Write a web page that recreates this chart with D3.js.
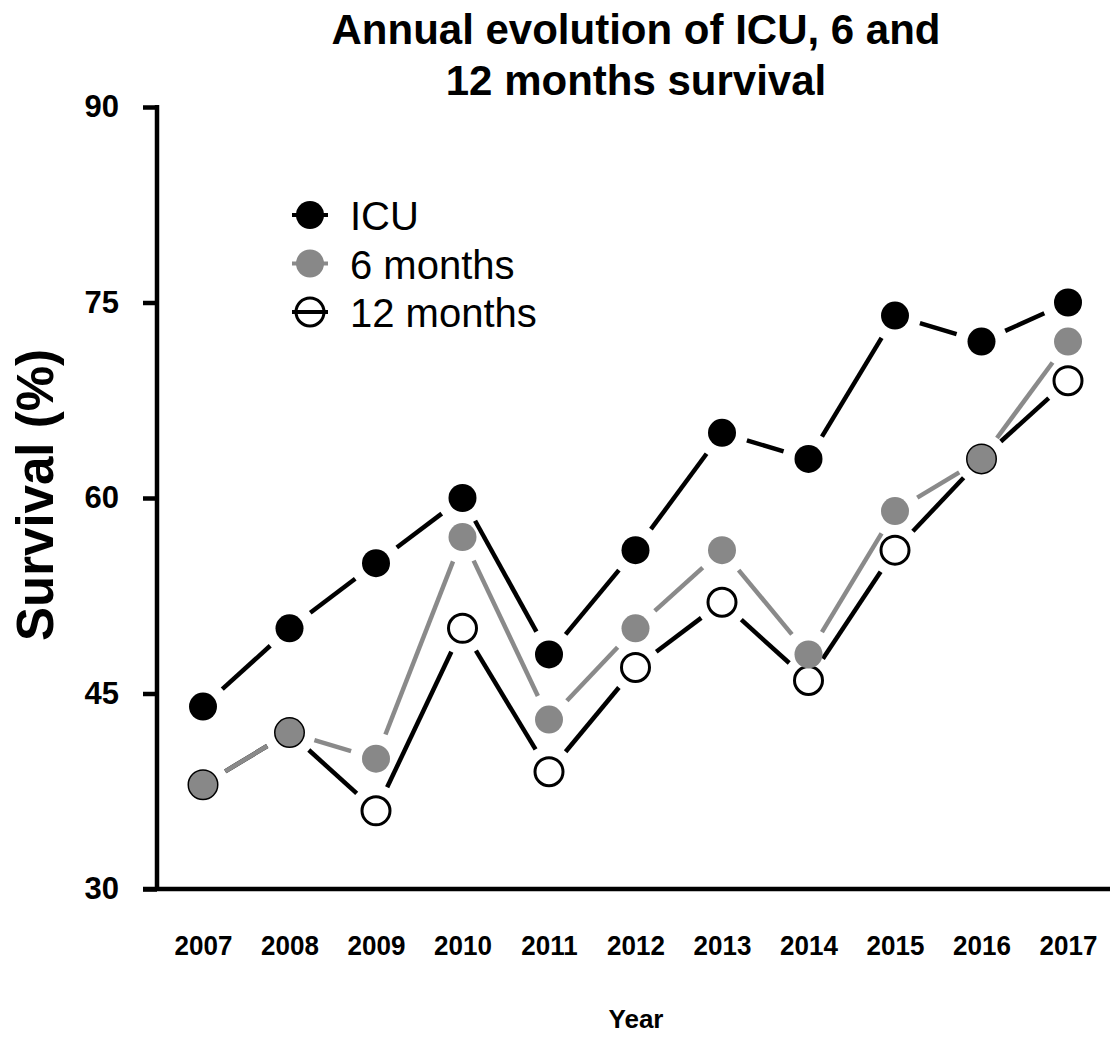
<!DOCTYPE html>
<html>
<head>
<meta charset="utf-8">
<script src="https://cdn.jsdelivr.net/npm/d3@7"></script>
<style>
  body { margin: 0; background: #fff; }
  svg { display: block; font-family: "Liberation Sans", Arial, sans-serif; }
</style>
</head>
<body>
<div id="graf"></div>
<script>
// Data
const years = [2007, 2008, 2009, 2010, 2011, 2012, 2013, 2014, 2015, 2016, 2017]
const icu = [44, 50, 55, 60, 48, 56, 65, 63, 74, 72, 75]
const sixMonths = [38, 42, 40, 57, 43, 50, 56, 48, 59, 63, 72]
const twelveMonths = [38, 42, 36, 50, 39, 47, 52, 46, 56, 63, 69]
const yTicks = [30, 45, 60, 75, 90]
const seriesNames = ["ICU", "6 months", "12 months"]

const draw = () => {
  const anchoTotal = 1110
  const altoTotal = 1037

  const svg = d3.select("#graf")
    .append("svg")
    .attr("width", anchoTotal)
    .attr("height", altoTotal)

  // Escaladores
  const x = d3.scalePoint().domain(years).range([203, 1068])
  const y = d3.scaleLinear().domain([30, 90]).range([889, 107])
  const axisX = 157

  // series: draw order 12 months, 6 months, ICU
  const series = [
    { name: seriesNames[2], values: twelveMonths, line: "#000", fill: "#fff", legendFill: "none", stroke: "#000", sw: 3 },
    { name: seriesNames[1], values: sixMonths, line: "#8a8a8a", fill: "#888", legendFill: "#888", stroke: "none", sw: 0 },
    { name: seriesNames[0], values: icu, line: "#000", fill: "#000", legendFill: "#000", stroke: "none", sw: 0 },
  ]
  const r = 14
  const gap = 26

  // Lines between markers with gaps
  series.forEach((s) => {
    const pts = years.map((yr, i) => [x(yr), y(s.values[i])])
    const segs = d3.pairs(pts).map(([a, b]) => {
      const dx = b[0] - a[0], dy = b[1] - a[1]
      const len = Math.hypot(dx, dy)
      const ux = dx / len, uy = dy / len
      return [a[0] + ux * gap, a[1] + uy * gap, b[0] - ux * gap, b[1] - uy * gap]
    })
    svg.append("g")
      .selectAll("line")
      .data(segs)
      .join("line")
      .attr("x1", (d) => d[0])
      .attr("y1", (d) => d[1])
      .attr("x2", (d) => d[2])
      .attr("y2", (d) => d[3])
      .attr("stroke", s.line)
      .attr("stroke-width", 4.5)
  })

  // Markers
  series.forEach((s) => {
    svg.append("g")
      .selectAll("circle")
      .data(years)
      .join("circle")
      .attr("cx", (d) => x(d))
      .attr("cy", (d, i) => y(s.values[i]))
      .attr("r", r)
      .attr("fill", s.fill)
      .attr("stroke", s.stroke)
      .attr("stroke-width", s.sw)
  })

  // Eje Y
  const yAxis = d3.axisLeft(y).tickValues(yTicks).tickSize(14).tickSizeOuter(0).tickPadding(24)
  const yAxisGroup = svg.append("g")
    .attr("transform", `translate(${axisX}, 0)`)
    .call(yAxis)
  yAxisGroup.select(".domain").attr("stroke-width", 4.5).attr("d", `M0,${y(90) - 2}V${y(30)}`)
  yAxisGroup.selectAll(".tick line").attr("stroke-width", 4.5)
  yAxisGroup.selectAll(".tick text")
    .attr("font-size", 31)
    .attr("font-weight", "bold")
    .attr("font-family", "Liberation Sans, Arial, sans-serif")
    .attr("fill", "#000")

  // Eje X
  const xAxis = d3.axisBottom(x).tickSize(0).tickPadding(43)
  const xAxisGroup = svg.append("g")
    .attr("transform", `translate(0, ${y(30)})`)
    .call(xAxis)
  xAxisGroup.select(".domain").remove()
  xAxisGroup.selectAll(".tick text")
    .attr("font-size", 26)
    .attr("font-weight", "bold")
    .attr("font-family", "Liberation Sans, Arial, sans-serif")
    .attr("fill", "#000")
    .attr("transform", "scale(1,1.08)")

  svg.append("line")
    .attr("x1", axisX - 14)
    .attr("x2", anchoTotal)
    .attr("y1", y(30))
    .attr("y2", y(30))
    .attr("stroke", "#000")
    .attr("stroke-width", 4.5)

  // Títulos
  svg.append("text")
    .attr("x", 636)
    .attr("y", 1028)
    .attr("text-anchor", "middle")
    .attr("font-size", 26)
    .attr("font-weight", "bold")
    .text("Year")

  svg.append("text")
    .attr("transform", `translate(53, 495) rotate(-90)`)
    .attr("text-anchor", "middle")
    .attr("font-size", 51)
    .attr("font-weight", "bold")
    .text("Survival (%)")

  const title = svg.append("text")
    .attr("text-anchor", "middle")
    .attr("font-size", 42)
    .attr("font-weight", "bold")
  title.append("tspan").attr("x", 636).attr("y", 44).text("Annual evolution of ICU, 6 and")
  title.append("tspan").attr("x", 636).attr("y", 95).text("12 months survival")

  // Leyenda
  const legendItems = [series[2], series[1], series[0]]
  const legend = svg.append("g")
    .selectAll("g")
    .data(legendItems)
    .join("g")
    .attr("transform", (d, i) => `translate(310, ${215 + i * 48.5})`)
  legend.append("line")
    .attr("x1", -18).attr("x2", 18)
    .attr("stroke", (d) => d.line)
    .attr("stroke-width", 4)
  legend.append("circle")
    .attr("r", 14)
    .attr("fill", (d) => d.legendFill)
    .attr("stroke", (d) => d.stroke)
    .attr("stroke-width", (d) => d.sw)
  legend.append("text")
    .attr("x", 40)
    .attr("y", 15)
    .attr("font-size", 40)
    .text((d) => d.name)
}

draw()
</script>
</body>
</html>
